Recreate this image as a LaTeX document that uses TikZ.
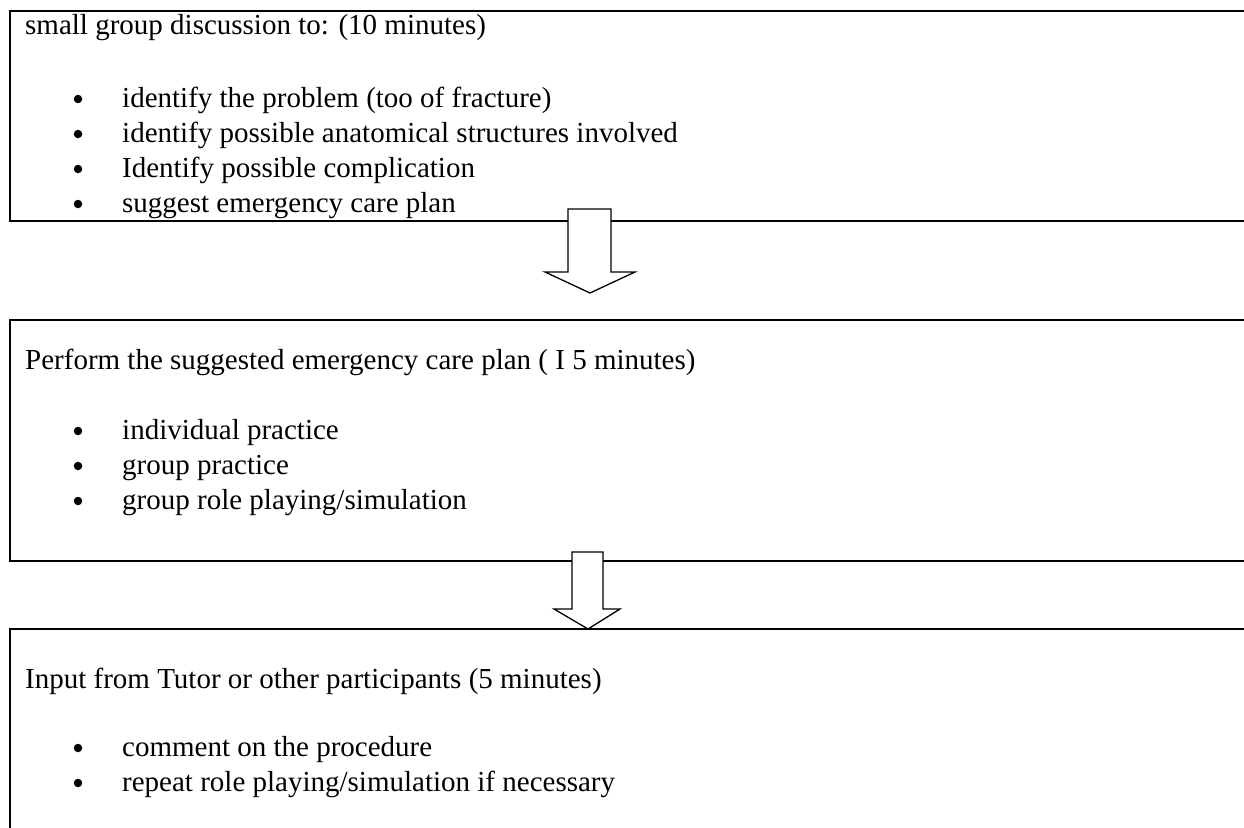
\documentclass[tikz,border=0pt]{standalone}
\usepackage{fontspec}
\setmainfont{Liberation Serif}
\begin{document}
\begin{tikzpicture}[x=1pt,y=-1pt,
  boxframe/.style={draw=black,line width=2pt,fill=none},
  blockarrow/.style={draw=black,line width=1.3pt,fill=white,line join=miter},
  txt/.style={anchor=base west,inner sep=0pt,font=\fontsize{29pt}{31pt}\selectfont},
  bul/.style={circle,fill=black,inner sep=0pt,minimum size=8.5pt}]
\clip (0,0) rectangle (1244,827);
\fill[white] (0,0) rectangle (1244,827);
% boxes
\draw[boxframe] (10,11) rectangle (1270,221);
\draw[boxframe] (10,320) rectangle (1270,561);
\draw[boxframe] (10,629) rectangle (1270,860);
\coordinate (b2t) at (590,320);
\coordinate (b3t) at (588,629);
% box 1 text
\node[txt] (t1) at (25,34) {small group discussion to: (10 minutes)};
\foreach \y/\s [count=\i] in {107/{identify the problem (too of fracture)},142/{identify possible anatomical structures involved},177/{Identify possible complication},212/{suggest emergency care plan}}{
  \node[bul] (p1d\i) at (78,\y-8) {};
  \node[txt] (p1t\i) at (122,\y) {\s};
}
% box 2 text
\node[txt] (t2) at (25,369) {Perform the suggested emergency care plan ( I 5 minutes)};
\foreach \y/\s [count=\i] in {439/{individual practice},474/{group practice},509/{group role playing/simulation}}{
  \node[bul] (p2d\i) at (78,\y-8) {};
  \node[txt] (p2t\i) at (122,\y) {\s};
}
% box 3 text
\node[txt] (t3) at (25,688) {Input from Tutor or other participants (5 minutes)};
\foreach \y/\s [count=\i] in {756/{comment on the procedure},791/{repeat role playing/simulation if necessary}}{
  \node[bul] (p3d\i) at (78,\y-8) {};
  \node[txt] (p3t\i) at (122,\y) {\s};
}
% block arrows
\draw[blockarrow] (568,209) -- (611,209) -- (611,272) -- (635,272) -- (b2t |- 0,293) -- (545,272) -- (568,272) -- cycle;
\draw[blockarrow] (572,552) -- (603,552) -- (603,609) -- (620,609) -- (b3t) -- (554,609) -- (572,609) -- cycle;
\end{tikzpicture}
\end{document}
